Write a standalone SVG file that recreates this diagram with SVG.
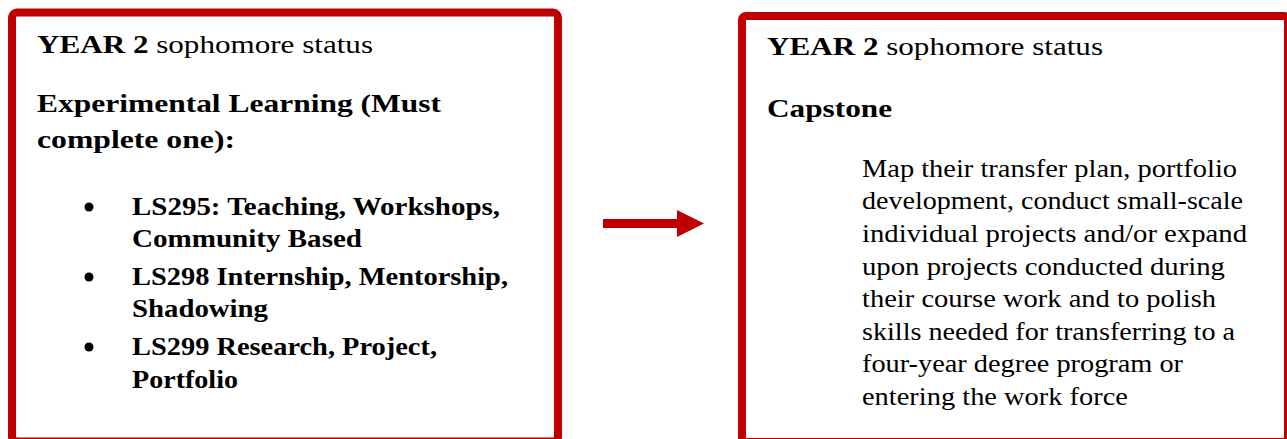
<svg xmlns="http://www.w3.org/2000/svg" width="1287" height="439" viewBox="0 0 1287 439">
<style>
.box{fill:#ffffff;stroke:#C00000;stroke-width:8}
.t{font-family:"Liberation Serif","Times New Roman",serif;fill:#000000}
.hd{font-size:26px}
.b{font-weight:bold}
.blt{font-size:26px;font-weight:bold}
.body{font-size:25px}
</style>
<rect width="1287" height="439" fill="#ffffff"/>
<g id="node-year2-experimental">
<rect class="box" x="12" y="12.5" width="546" height="429" rx="5"/>
<text class="t hd" x="37" y="53" textLength="336" lengthAdjust="spacingAndGlyphs"><tspan class="b">YEAR 2</tspan> sophomore status</text>
<text class="t hd b" x="37" y="112" textLength="404" lengthAdjust="spacingAndGlyphs">Experimental Learning (Must</text>
<text class="t hd b" x="37" y="148" textLength="198" lengthAdjust="spacingAndGlyphs">complete one):</text>
<circle cx="89" cy="207" r="4.5" fill="#000"/>
<circle cx="89" cy="277" r="4.5" fill="#000"/>
<circle cx="89" cy="347" r="4.5" fill="#000"/>
<text class="t blt" x="132" y="215" textLength="368" lengthAdjust="spacingAndGlyphs">LS295: Teaching, Workshops,</text>
<text class="t blt" x="132" y="247" textLength="230" lengthAdjust="spacingAndGlyphs">Community Based</text>
<text class="t blt" x="132" y="285" textLength="376" lengthAdjust="spacingAndGlyphs">LS298 Internship, Mentorship,</text>
<text class="t blt" x="132" y="317" textLength="136" lengthAdjust="spacingAndGlyphs">Shadowing</text>
<text class="t blt" x="132" y="355" textLength="305" lengthAdjust="spacingAndGlyphs">LS299 Research, Project,</text>
<text class="t blt" x="132" y="388" textLength="106" lengthAdjust="spacingAndGlyphs">Portfolio</text>
</g>
<g id="node-year2-capstone">
<rect class="box" x="742" y="16" width="546" height="426" rx="4"/>
<text class="t hd" x="767" y="55" textLength="336" lengthAdjust="spacingAndGlyphs"><tspan class="b">YEAR 2</tspan> sophomore status</text>
<text class="t hd b" x="767" y="117" textLength="125" lengthAdjust="spacingAndGlyphs">Capstone</text>
<text class="t body" x="862" y="176.7" textLength="375" lengthAdjust="spacingAndGlyphs">Map their transfer plan, portfolio</text>
<text class="t body" x="862" y="209.3" textLength="381" lengthAdjust="spacingAndGlyphs">development, conduct small-scale</text>
<text class="t body" x="862" y="241.9" textLength="385" lengthAdjust="spacingAndGlyphs">individual projects and/or expand</text>
<text class="t body" x="862" y="274.5" textLength="363" lengthAdjust="spacingAndGlyphs">upon projects conducted during</text>
<text class="t body" x="862" y="307.1" textLength="354" lengthAdjust="spacingAndGlyphs">their course work and to polish</text>
<text class="t body" x="862" y="339.7" textLength="373" lengthAdjust="spacingAndGlyphs">skills needed for transferring to a</text>
<text class="t body" x="862" y="372.3" textLength="321" lengthAdjust="spacingAndGlyphs">four-year degree program or</text>
<text class="t body" x="862" y="404.9" textLength="266" lengthAdjust="spacingAndGlyphs">entering the work force</text>
</g>
<g id="connectors">
<path d="M603,219 L677,219 L677,210 L704,223.5 L677,237 L677,228 L603,228 Z" fill="#C00000"/>
</g>
</svg>
